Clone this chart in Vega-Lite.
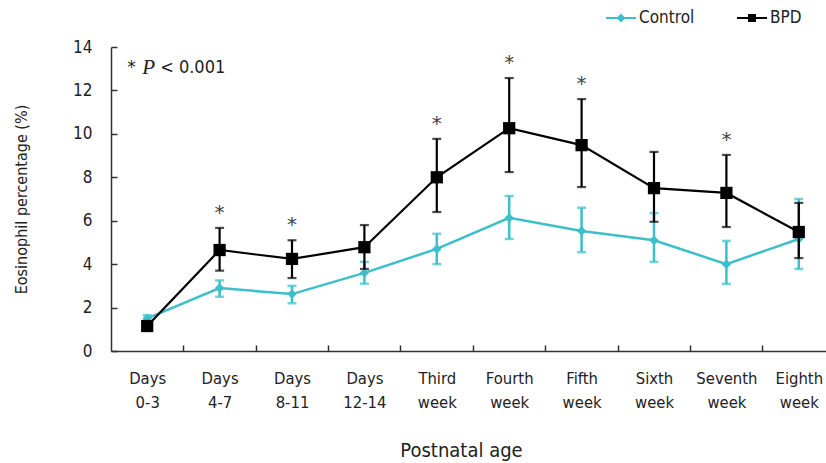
{
  "$schema": "https://vega.github.io/schema/vega-lite/v6.json",
  "autosize": {"type": "none"},
  "padding": {"left": 111, "top": 47, "right": 0, "bottom": 112},
  "width": 715,
  "height": 304,
  "config": {
    "view": {"stroke": null},
    "font": "DejaVu Sans Condensed",
    "axis": {"grid": false, "domainColor": "#333333", "tickColor": "#333333", "labelColor": "#222222", "titleColor": "#222222", "labelFont": "DejaVu Sans Condensed", "titleFont": "DejaVu Sans Condensed", "titleFontWeight": "normal", "domainWidth": 1.5, "tickWidth": 1.5},
    "legend": {"labelFont": "DejaVu Sans Condensed"}
  },
  "data": {
    "values": [
      {"group": "Control", "age": "Days 0-3", "mean": 1.5, "lo": 1.35, "hi": 1.65, "sig": ""},
      {"group": "Control", "age": "Days 4-7", "mean": 2.9, "lo": 2.5, "hi": 3.25, "sig": ""},
      {"group": "Control", "age": "Days 8-11", "mean": 2.62, "lo": 2.2, "hi": 3.0, "sig": ""},
      {"group": "Control", "age": "Days 12-14", "mean": 3.6, "lo": 3.1, "hi": 4.1, "sig": ""},
      {"group": "Control", "age": "Third week", "mean": 4.7, "lo": 4.0, "hi": 5.4, "sig": ""},
      {"group": "Control", "age": "Fourth week", "mean": 6.13, "lo": 5.16, "hi": 7.14, "sig": ""},
      {"group": "Control", "age": "Fifth week", "mean": 5.53, "lo": 4.55, "hi": 6.6, "sig": ""},
      {"group": "Control", "age": "Sixth week", "mean": 5.1, "lo": 4.1, "hi": 6.35, "sig": ""},
      {"group": "Control", "age": "Seventh week", "mean": 4.0, "lo": 3.09, "hi": 5.07, "sig": ""},
      {"group": "Control", "age": "Eighth week", "mean": 5.16, "lo": 3.78, "hi": 7.0, "sig": ""},
      {"group": "BPD", "age": "Days 0-3", "mean": 1.15, "lo": 0.95, "hi": 1.35, "sig": ""},
      {"group": "BPD", "age": "Days 4-7", "mean": 4.65, "lo": 3.7, "hi": 5.67, "sig": "*"},
      {"group": "BPD", "age": "Days 8-11", "mean": 4.24, "lo": 3.36, "hi": 5.1, "sig": "*"},
      {"group": "BPD", "age": "Days 12-14", "mean": 4.78, "lo": 3.78, "hi": 5.8, "sig": ""},
      {"group": "BPD", "age": "Third week", "mean": 8.0, "lo": 6.4, "hi": 9.77, "sig": "*"},
      {"group": "BPD", "age": "Fourth week", "mean": 10.26, "lo": 8.24, "hi": 12.57, "sig": "*"},
      {"group": "BPD", "age": "Fifth week", "mean": 9.48, "lo": 7.55, "hi": 11.6, "sig": "*"},
      {"group": "BPD", "age": "Sixth week", "mean": 7.5, "lo": 5.95, "hi": 9.17, "sig": ""},
      {"group": "BPD", "age": "Seventh week", "mean": 7.28, "lo": 5.71, "hi": 9.03, "sig": "*"},
      {"group": "BPD", "age": "Eighth week", "mean": 5.48, "lo": 4.28, "hi": 6.82, "sig": ""}
    ]
  },
  "encoding": {
    "x": {
      "field": "age", "type": "nominal",
      "sort": ["Days 0-3", "Days 4-7", "Days 8-11", "Days 12-14", "Third week", "Fourth week", "Fifth week", "Sixth week", "Seventh week", "Eighth week"],
      "scale": {"type": "point", "padding": 0.5, "range": [0, 724]},
      "axis": {
        "title": "Postnatal age", "titleFontSize": 20, "titlePadding": 30, "titleX": 350,
        "labelAngle": 0, "labelFontSize": 16.5, "labelLineHeight": 24, "labelPadding": 25,
        "labelExpr": "split(datum.label, ' ')",
        "tickOffset": 36, "labelOffset": -36, "tickSize": -6
      }
    },
    "color": {
      "field": "group", "type": "nominal",
      "scale": {"domain": ["Control", "BPD"], "range": ["#3cbfcb", "#000000"]},
      "legend": {
        "title": null, "orient": "none", "direction": "horizontal",
        "legendX": 494, "legendY": -45,
        "labelFontSize": 17, "labelColor": "#222222", "labelOffset": 2,
        "columnPadding": 38, "symbolSize": 900, "symbolStrokeWidth": 2, "symbolOpacity": 1,
        "encode": {
          "symbols": {
            "update": {
              "shape": {"signal": "datum.value == 'BPD' ? 'M-1,0H1M-0.2,-0.2H0.2V0.2H-0.2Z' : 'M-1,0H1M-0.2,0L0,-0.2L0.2,0L0,0.2Z'"},
              "fill": {"signal": "datum.value == 'BPD' ? '#000000' : '#3cbfcb'"},
              "stroke": {"signal": "datum.value == 'BPD' ? '#000000' : '#3cbfcb'"},
              "strokeWidth": {"value": 2},
              "opacity": {"value": 1}
            }
          }
        }
      }
    }
  },
  "layer": [
    {
      "transform": [{"filter": "datum.group == 'Control'"}],
      "layer": [
        {"mark": {"type": "rule", "strokeWidth": 2.5}, "encoding": {"y": {"field": "lo", "type": "quantitative", "scale": {"domain": [0, 14]}, "axis": {"title": "Eosinophil percentage (%)", "titleFontSize": 16, "titlePadding": 43, "values": [0, 2, 4, 6, 8, 10, 12, 14], "labelFontSize": 17, "labelPadding": 25, "tickSize": -6}}, "y2": {"field": "hi"}}},
        {"mark": {"type": "tick", "thickness": 2.5, "size": 9, "orient": "horizontal"}, "encoding": {"y": {"field": "lo", "type": "quantitative"}}},
        {"mark": {"type": "tick", "thickness": 2.5, "size": 9, "orient": "horizontal"}, "encoding": {"y": {"field": "hi", "type": "quantitative"}}},
        {"mark": {"type": "line", "strokeWidth": 2.5}, "encoding": {"y": {"field": "mean", "type": "quantitative"}}},
        {"mark": {"type": "point", "filled": true, "opacity": 1, "shape": "diamond", "size": 90}, "encoding": {"y": {"field": "mean", "type": "quantitative"}}}
      ]
    },
    {
      "transform": [{"filter": "datum.group == 'BPD'"}],
      "layer": [
        {"mark": {"type": "rule", "strokeWidth": 2.2}, "encoding": {"y": {"field": "lo", "type": "quantitative"}, "y2": {"field": "hi"}}},
        {"mark": {"type": "tick", "thickness": 2.2, "size": 9, "orient": "horizontal"}, "encoding": {"y": {"field": "lo", "type": "quantitative"}}},
        {"mark": {"type": "tick", "thickness": 2.2, "size": 9, "orient": "horizontal"}, "encoding": {"y": {"field": "hi", "type": "quantitative"}}},
        {"mark": {"type": "line", "strokeWidth": 2.2}, "encoding": {"y": {"field": "mean", "type": "quantitative"}}},
        {"mark": {"type": "point", "filled": true, "opacity": 1, "shape": "square", "size": 150}, "encoding": {"y": {"field": "mean", "type": "quantitative"}}},
        {"transform": [{"filter": "datum.sig == '*'"}], "mark": {"type": "text", "fontSize": 20, "baseline": "middle", "dy": -15, "font": "DejaVu Sans"}, "encoding": {"y": {"field": "hi", "type": "quantitative"}, "text": {"field": "sig"}, "color": {"value": "#444444"}}}
      ]
    },
    {
      "data": {"values": [{"part": "*"}]},
      "mark": {"type": "text", "align": "left", "baseline": "middle", "fontSize": 17, "dx": -20, "font": "DejaVu Sans"},
      "encoding": {"x": {"datum": "Days 0-3"}, "y": {"datum": 13.05, "type": "quantitative"}, "text": {"field": "part"}, "color": {"value": "#222222"}}
    },
    {
      "data": {"values": [{"part": "P"}]},
      "mark": {"type": "text", "align": "left", "baseline": "middle", "fontSize": 21, "dx": -5, "fontStyle": "italic", "font": "Liberation Serif"},
      "encoding": {"x": {"datum": "Days 0-3"}, "y": {"datum": 13.05, "type": "quantitative"}, "text": {"field": "part"}, "color": {"value": "#222222"}}
    },
    {
      "data": {"values": [{"part": "< 0.001"}]},
      "mark": {"type": "text", "align": "left", "baseline": "middle", "fontSize": 18, "dx": 13},
      "encoding": {"x": {"datum": "Days 0-3"}, "y": {"datum": 13.05, "type": "quantitative"}, "text": {"field": "part"}, "color": {"value": "#222222"}}
    }
  ]
}
